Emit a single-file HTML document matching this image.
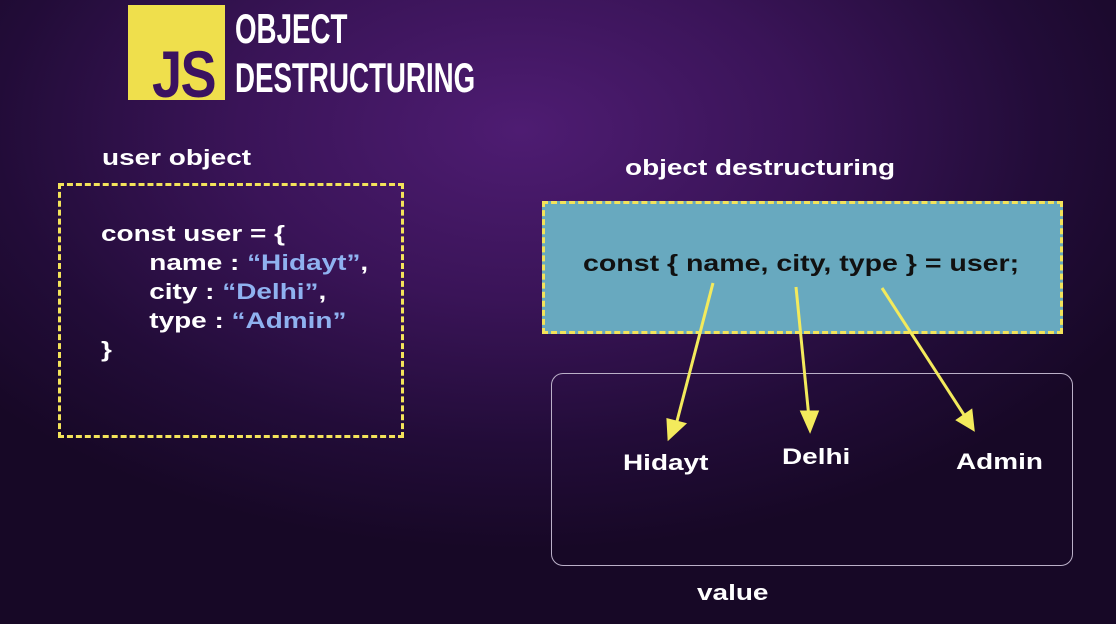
<!DOCTYPE html>
<html><head><style>
body{margin:0;width:1116px;height:624px;overflow:hidden;position:relative;font-family:"Liberation Sans",sans-serif;
background:radial-gradient(ellipse 700px 420px at 520px 130px,#4e1c72 0%,#3a1458 40%,#220c38 75%,#170826 100%);}
.a{position:absolute;color:#fff;font-weight:bold;white-space:nowrap}
.w{transform:scaleX(1.27);transform-origin:left}
</style></head><body>
<div style="position:absolute;left:128px;top:5px;width:97px;height:95px;background:#efdf4c"></div>
<div class="a" style="left:152px;top:36px;font-size:66px;color:#3b1260;letter-spacing:-2px;transform:scaleX(.82);transform-origin:left">JS</div>
<div class="a" style="left:235px;top:4px;font-size:42px;line-height:49px;transform:scaleX(.66);transform-origin:left">OBJECT<br>DESTRUCTURING</div>
<div class="a w" style="left:102px;top:145px;font-size:22px">user object</div>
<div style="position:absolute;left:58px;top:183px;width:340px;height:249px;border:3px dashed #f3e35a"></div>
<div class="a w" style="left:101px;top:219px;font-size:22px;line-height:29px">const user = {<br>
<span style="margin-left:38px">name : <span style="color:#8fb2f0">“Hidayt”</span>,</span><br>
<span style="margin-left:38px">city : <span style="color:#8fb2f0">“Delhi”</span>,</span><br>
<span style="margin-left:38px">type : <span style="color:#8fb2f0">“Admin”</span></span><br>}</div>
<div class="a w" style="left:625px;top:155px;font-size:22px">object destructuring</div>
<div style="position:absolute;left:542px;top:201px;width:515px;height:127px;background:#68a9bf;border:3px dashed #f3e35a"></div>
<div class="a w" style="left:583px;top:250px;font-size:23px;color:#111;transform:scaleX(1.24)">const { name, city, type } = user;</div>
<div style="position:absolute;left:551px;top:373px;width:520px;height:191px;border:1.5px solid #bbb0c8;border-radius:12px"></div>
<div class="a w" style="left:623px;top:450px;font-size:22px">Hidayt</div>
<div class="a w" style="left:782px;top:444px;font-size:22px">Delhi</div>
<div class="a w" style="left:956px;top:449px;font-size:22px">Admin</div>
<div class="a w" style="left:697px;top:580px;font-size:22px">value</div>
<svg style="position:absolute;left:0;top:0" width="1116" height="624">
<g stroke="#f3ea5c" stroke-width="3" fill="#f3ea5c">
<line x1="713" y1="283" x2="676" y2="425"/><polygon points="669,438 668,420 684,424"/>
<line x1="796" y1="287" x2="809" y2="418"/><polygon points="810,430 802,412 817,412"/>
<line x1="882" y1="288" x2="966" y2="418"/><polygon points="973,429 958,420 971,411"/>
</g></svg>
</body></html>
